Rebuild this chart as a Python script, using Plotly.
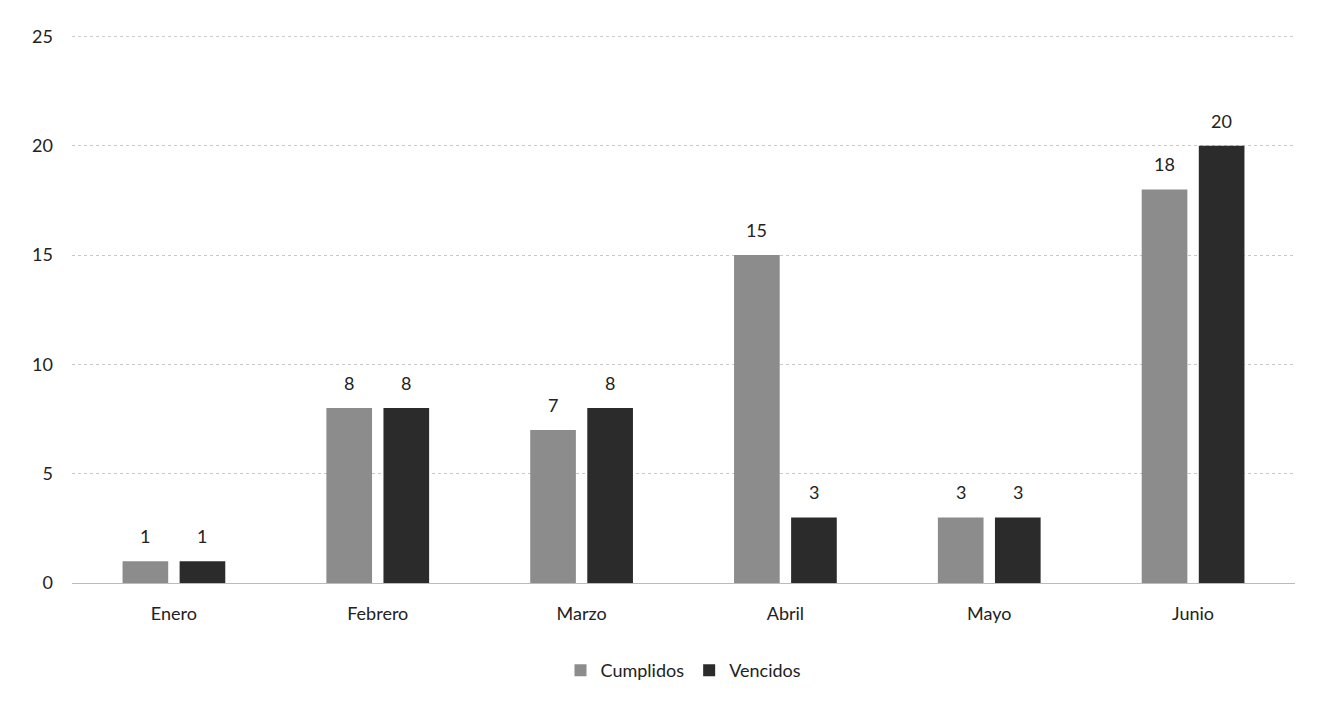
import plotly.graph_objects as go

months = ["Enero", "Febrero", "Marzo", "Abril", "Mayo", "Junio"]
cumplidos = [1, 8, 7, 15, 3, 18]
vencidos = [1, 8, 8, 3, 3, 20]
y_ticks = [0, 5, 10, 15, 20, 25]

font_family = "Lato, 'Noto Sans', sans-serif"

fig = go.Figure()
fig.add_trace(go.Bar(
    name="Cumplidos", x=months, y=cumplidos,
    marker=dict(color="#8c8c8c", line=dict(width=0)),
))
fig.add_trace(go.Bar(
    name="Vencidos", x=months, y=vencidos,
    marker=dict(color="#2b2b2b", line=dict(width=0)),
))

# value labels above bars
for series, shift in ((cumplidos, -28.5), (vencidos, 28.5)):
    for m, v in zip(months, series):
        fig.add_annotation(x=m, y=v, text=str(v), showarrow=False,
                           xshift=shift, yshift=12, yanchor="bottom",
                           font=dict(size=18, color="#222222"))

# top gridline (at the range edge)
fig.add_shape(type="line", xref="paper", x0=0, x1=1, yref="y", y0=y_ticks[-1], y1=y_ticks[-1],
              line=dict(color="#c8c8c8", width=1, dash="dot"), layer="below")

fig.update_layout(
    width=1328, height=704,
    margin=dict(l=64, r=41, t=28, b=129),
    paper_bgcolor="white", plot_bgcolor="white",
    barmode="group", bargap=0.44, bargroupgap=0.2,
    font=dict(family=font_family, size=18, color="#222222"),
    legend=dict(orientation="h", x=0.5, xanchor="center", y=-0.16, yanchor="middle",
                font=dict(size=18), itemwidth=30, traceorder="normal"),
    xaxis=dict(showgrid=False, showline=True, linecolor="#bbbbbb", linewidth=1,
               ticks="", tickfont=dict(size=18), ticklabelstandoff=14),
    yaxis=dict(range=[0, 25.02], tickvals=y_ticks, showgrid=True, gridcolor="#c8c8c8",
               griddash="dot", gridwidth=1, zeroline=False, ticks="",
               ticklabelstandoff=18, tickfont=dict(size=18)),
)

fig.write_html("out.html")
